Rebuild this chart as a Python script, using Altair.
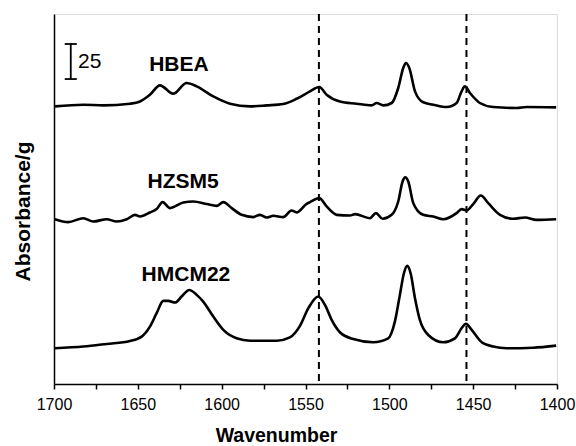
import altair as alt
import pandas as pd

# IR spectra of adsorbed pyridine on three zeolites (stacked, offset vertically)
series_names = ["HBEA", "HZSM5", "HMCM22"]

hbea_wn = [1699.5, 1682.5, 1670.6, 1654.7, 1648.7, 1642.8, 1636.8, 1628.9, 1620.9, 1614.9,
           1605.0, 1595.0, 1583.1, 1573.2, 1563.3, 1555.3, 1547.3, 1541.8, 1537.4, 1529.5,
           1519.5, 1510.6, 1507.6, 1503.6, 1498.6, 1494.7, 1491.7, 1490.1, 1488.1, 1484.7,
           1479.8, 1473.8, 1465.8, 1459.9, 1456.9, 1454.9, 1451.9, 1446.0, 1438.0, 1424.1,
           1418.1, 1400.5]
hbea_abs = [198.1, 199.3, 198.8, 200.0, 201.6, 206.4, 213.1, 207.1, 214.8, 212.4,
            205.2, 200.0, 198.1, 198.8, 199.8, 203.5, 208.8, 211.9, 206.4, 201.6,
            200.0, 198.8, 200.5, 198.8, 200.5, 211.2, 225.5, 229.0, 225.5, 208.8,
            201.0, 199.3, 197.6, 200.5, 208.8, 212.4, 207.6, 200.5, 197.6, 196.9,
            197.6, 197.4]

hzsm5_wn = [1699.5, 1691.5, 1682.5, 1676.6, 1668.6, 1662.6, 1656.6, 1651.7, 1648.7, 1642.8,
            1638.8, 1635.2, 1630.8, 1622.9, 1616.9, 1608.9, 1603.0, 1599.0, 1594.0, 1588.1,
            1581.2, 1577.2, 1573.2, 1569.2, 1563.3, 1558.3, 1555.3, 1549.3, 1547.3, 1541.8,
            1537.4, 1531.4, 1523.5, 1520.5, 1511.6, 1508.0, 1504.0, 1498.6, 1494.7, 1492.1,
            1490.5, 1488.7, 1485.7, 1479.8, 1473.8, 1467.8, 1459.9, 1456.9, 1453.9, 1450.0,
            1445.4, 1441.0, 1434.0, 1426.1, 1419.1, 1412.2, 1400.5]
hzsm5_abs = [117.6, 115.5, 118.3, 115.9, 117.6, 115.9, 117.6, 120.7, 119.5, 122.4,
             124.8, 129.8, 125.5, 129.5, 130.2, 128.4, 127.1, 129.8, 125.5, 120.7,
             119.1, 120.7, 118.8, 120.0, 119.1, 123.8, 122.4, 128.6, 129.8, 132.6,
             126.7, 120.7, 120.2, 121.2, 118.3, 121.9, 117.9, 120.7, 130.2, 144.5,
             147.4, 144.5, 129.0, 120.7, 119.5, 117.6, 121.9, 124.8, 123.8, 128.4,
             134.5, 129.0, 120.7, 117.9, 118.8, 117.1, 117.6]

hmcm22_wn = [1699.5, 1682.5, 1668.6, 1654.7, 1647.7, 1642.8, 1638.8, 1634.8, 1631.8, 1627.8,
             1623.9, 1619.3, 1614.9, 1611.0, 1605.0, 1599.0, 1591.1, 1583.1, 1567.2, 1559.3,
             1553.3, 1548.3, 1542.4, 1538.4, 1534.4, 1529.5, 1521.5, 1509.6, 1500.7, 1496.7,
             1493.7, 1491.3, 1489.3, 1487.3, 1484.7, 1481.8, 1476.8, 1467.8, 1460.9, 1456.9,
             1454.3, 1450.9, 1444.9, 1438.0, 1430.0, 1414.2, 1400.5]
hmcm22_abs = [25.5, 26.7, 28.6, 30.7, 33.8, 40.9, 50.5, 59.3, 59.3, 58.1,
              62.4, 67.1, 63.6, 58.8, 48.1, 38.6, 32.6, 30.9, 30.9, 33.3,
              41.5, 54.1, 62.4, 56.4, 45.7, 36.9, 32.1, 29.8, 32.6, 44.5,
              63.6, 79.0, 84.3, 79.0, 61.2, 45.7, 35.0, 29.8, 32.6, 39.8,
              42.9, 38.6, 29.8, 26.7, 25.5, 25.9, 27.4]

# Band positions marked with dashed guides (Brønsted / Lewis pyridine bands)
band_wn = [1542, 1454]

# Series name labels
label_wn = [1625.5, 1623.0, 1621.3]
label_abs = [227.9, 143.9, 77.9]

# Intensity scale bar
scale_bar_wn = 1690
scale_bar_cap = 3.6
scale_bar_bottom = 217.6
scale_bar_length = 25
x_ticks = [1700, 1675, 1650, 1625, 1600, 1575, 1550, 1525, 1500, 1475, 1450, 1425, 1400]

rows = []
for name, wn, ab in zip(series_names,
                        [hbea_wn, hzsm5_wn, hmcm22_wn],
                        [hbea_abs, hzsm5_abs, hmcm22_abs]):
    rows += [{"series": name, "wavenumber": w, "absorbance": a} for w, a in zip(wn, ab)]
spectra = pd.DataFrame(rows)

FONT = "Liberation Sans"
x_scale = alt.Scale(domain=[1400, 1700], reverse=True, nice=False, zero=False)
y_scale = alt.Scale(domain=[0, 264], nice=False, zero=False)

lines = alt.Chart(spectra).mark_line(
    color="black", strokeWidth=2.6, interpolate="monotone"
).encode(
    x=alt.X("wavenumber:Q", scale=x_scale, axis=alt.Axis(
        values=x_ticks,
        labelExpr="datum.value % 50 == 0 ? datum.label : ''",
        format="d",
        title="Wavenumber",
        grid=False, tickSize=5, tickWidth=1.5, tickColor="black",
        domainColor="black", domainWidth=1.5,
        labelFont=FONT, labelFontSize=16, labelColor="black", labelPadding=7,
        labelFlush=False,
        titleFont=FONT, titleFontSize=19.5, titleFontWeight="bold", titleColor="black",
        titleX=222, titleY=57, titleBaseline="alphabetic", titleAlign="center",
    )),
    y=alt.Y("absorbance:Q", scale=y_scale, axis=alt.Axis(
        title="Absorbance/g", labels=False, ticks=False, grid=False,
        domainColor="black", domainWidth=1.5,
        titleFont=FONT, titleFontSize=21, titleFontWeight="bold", titleColor="black",
        titleX=-31, titleY=197, titleBaseline="middle", titleAlign="center",
        titleAngle=270,
    )),
    detail="series:N",
)

guides = alt.Chart(pd.DataFrame({"wavenumber": band_wn})).mark_rule(
    color="black", strokeWidth=2, strokeDash=[7, 5]
).encode(x=alt.X("wavenumber:Q", scale=x_scale))

labels = alt.Chart(pd.DataFrame({
    "series": series_names, "wavenumber": label_wn, "absorbance": label_abs
})).mark_text(
    font=FONT, fontSize=21, fontWeight="bold", color="black",
    align="center", baseline="middle"
).encode(
    x=alt.X("wavenumber:Q", scale=x_scale),
    y=alt.Y("absorbance:Q", scale=y_scale),
    text="series:N",
)

bar_df = pd.DataFrame({
    "x": [scale_bar_wn],
    "xl": [scale_bar_wn + scale_bar_cap],
    "xr": [scale_bar_wn - scale_bar_cap],
    "y0": [scale_bar_bottom],
    "y1": [scale_bar_bottom + scale_bar_length],
    "mid": [scale_bar_bottom + scale_bar_length / 2],
    "tx": [scale_bar_wn - 4.3],
    "txt": [str(scale_bar_length)],
})
bar_base = alt.Chart(bar_df)
bar_stem = bar_base.mark_rule(color="black", strokeWidth=1.8).encode(
    x=alt.X("x:Q", scale=x_scale), y=alt.Y("y0:Q", scale=y_scale), y2="y1:Q")
bar_cap_lo = bar_base.mark_rule(color="black", strokeWidth=1.8).encode(
    x=alt.X("xl:Q", scale=x_scale), x2="xr:Q", y=alt.Y("y0:Q", scale=y_scale))
bar_cap_hi = bar_base.mark_rule(color="black", strokeWidth=1.8).encode(
    x=alt.X("xl:Q", scale=x_scale), x2="xr:Q", y=alt.Y("y1:Q", scale=y_scale))
bar_text = bar_base.mark_text(
    font=FONT, fontSize=21, color="black", align="left", baseline="middle"
).encode(
    x=alt.X("tx:Q", scale=x_scale), y=alt.Y("mid:Q", scale=y_scale), text="txt:N")

chart = alt.layer(
    guides, lines, labels, bar_stem, bar_cap_lo, bar_cap_hi, bar_text
).properties(
    width=503, height=370,
    autosize=alt.AutoSizeParams(type="none"),
    padding={"left": 54, "top": 14, "right": 19, "bottom": 62},
).configure_view(
    stroke="black", strokeWidth=1.5
).configure(background="white")

chart.save("out.html", embed_options={"renderer": "svg", "actions": False})
